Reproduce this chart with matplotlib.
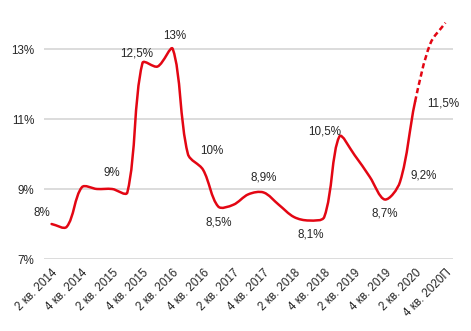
import numpy as np
import matplotlib
matplotlib.use("Agg")
import matplotlib.pyplot as plt
from matplotlib.path import Path
from matplotlib.patches import PathPatch

plt.rcParams['font.family'] = ['Liberation Sans', 'DejaVu Sans']

# Quarterly values, 2 кв. 2014 .. 4 кв. 2020 (last two quarters are a forecast)
quarters = ["2 кв. 2014", "3 кв. 2014", "4 кв. 2014", "1 кв. 2015", "2 кв. 2015",
            "3 кв. 2015", "4 кв. 2015", "1 кв. 2016", "2 кв. 2016", "3 кв. 2016",
            "4 кв. 2016", "1 кв. 2017", "2 кв. 2017", "3 кв. 2017", "4 кв. 2017",
            "1 кв. 2018", "2 кв. 2018", "3 кв. 2018", "4 кв. 2018", "1 кв. 2019",
            "2 кв. 2019", "3 кв. 2019", "4 кв. 2019", "1 кв. 2020", "2 кв. 2020",
            "3 кв. 2020П", "4 кв. 2020П"]
values = [8.0, 7.92, 9.05, 9.0, 9.0, 8.9, 12.6, 12.5, 13.0, 10.0,
          9.55, 8.5, 8.55, 8.85, 8.9, 8.55, 8.2, 8.1, 8.2, 10.5,
          9.97, 9.35, 8.7, 9.2, 11.5, 13.15, 13.75]
forecast_start = 24  # index where the dashed forecast begins

tick_labels = ["2 кв. 2014", "4 кв. 2014", "2 кв. 2015", "4 кв. 2015", "2 кв. 2016",
               "4 кв. 2016", "2 кв. 2017", "4 кв. 2017", "2 кв. 2018", "4 кв. 2018",
               "2 кв. 2019", "4 кв. 2019", "2 кв. 2020", "4 кв. 2020П"]

# data labels: index, text, offset in pixels (dx, dy)
label_idx = [0, 4, 7, 8, 9, 11, 14, 17, 19, 22, 23, 24]
label_txt = ["8%", "9%", "12,5%", "13%", "10%", "8,5%", "8,9%", "8,1%",
             "10,5%", "8,7%", "9,2%", "11,5%"]
label_off = [(-10, 11), (0, 16), (-21, 13), (2, 13), (24, 3), (1, -16), (0, 15),
             (2, -14), (-15, 5), (0, -14), (24, 7), (28, -2)]

RED = "#E30613"
GRID = "#D9D9D9"
TXT = "#262626"


def smooth_path(xs, ys, sx=1.0, sy=1.0):
    """Bezier path through the points; tangents weighted by chord length
    (measured with the x/y scale factors sx, sy) to limit overshoot."""
    pts = np.column_stack([xs, ys]).astype(float)
    n = len(pts)
    scale = np.array([sx, sy])

    def dist(a, b):
        return float(np.hypot(*((b - a) * scale)))

    verts = [pts[0]]
    codes = [Path.MOVETO]
    for i in range(n - 1):
        p0 = pts[i - 1] if i > 0 else pts[i]
        p1 = pts[i]
        p2 = pts[i + 1]
        p3 = pts[i + 2] if i + 2 < n else pts[i + 1]
        d01, d12, d23 = dist(p0, p1), dist(p1, p2), dist(p2, p3)
        w1 = d12 / (d01 + d12) if d01 + d12 > 0 else 0.5
        w2 = d12 / (d12 + d23) if d12 + d23 > 0 else 0.5
        c1 = p1 + (p2 - p0) * w1 / 3.0
        c2 = p2 - (p3 - p1) * w2 / 3.0
        verts += [c1, c2, p2]
        codes += [Path.CURVE4] * 3
    return Path(verts, codes)


fig = plt.figure(figsize=(4.71, 3.31), dpi=100)
ax = fig.add_axes([44 / 471, 72 / 331, 409 / 471, 245 / 331])

x = np.arange(len(values))
y = np.array(values)

# smooth the full series once, then split the path into actual and forecast parts
full = smooth_path(x, y, sx=409 / 27, sy=245 / 7)
v = full.vertices
c = full.codes
cut = 1 + 3 * forecast_start
solid = Path(v[:cut], c[:cut])
dashed = Path(np.vstack([v[cut - 1:cut], v[cut:]]),
              [Path.MOVETO] + list(c[cut:]))

ax.add_patch(PathPatch(solid, fill=False, edgecolor=RED, lw=1.8,
                       capstyle='round', joinstyle='round'))
ax.add_patch(PathPatch(dashed, fill=False, edgecolor=RED, lw=1.8,
                       linestyle=(0, (2.1, 1.3))))

ax.set_xlim(-0.5, len(values) - 0.5)
ax.set_ylim(7, 14)
ax.set_yticks([7, 9, 11, 13])
ax.set_yticklabels(["7%", "9%", "11%", "13%"])
ax.set_xticks(np.arange(0, len(values), 2))
ax.set_xticklabels(tick_labels, rotation=45, ha='right', va='top',
                   rotation_mode='anchor')

ax.grid(axis='y', color=GRID, lw=1.3)
ax.set_axisbelow(True)
for s in ax.spines.values():
    s.set_visible(False)
ax.tick_params(axis='both', length=0, labelsize=8.4, colors=TXT)
ax.tick_params(axis='y', pad=7)
ax.tick_params(axis='x', pad=6)

for i, t, (dx, dy) in zip(label_idx, label_txt, label_off):
    ax.annotate(t, (x[i], y[i]), xytext=(dx * 0.72, dy * 0.72),
                textcoords='offset points', ha='center', va='center',
                fontsize=8.4, color=TXT)

fig.savefig("out.png", dpi=100)
